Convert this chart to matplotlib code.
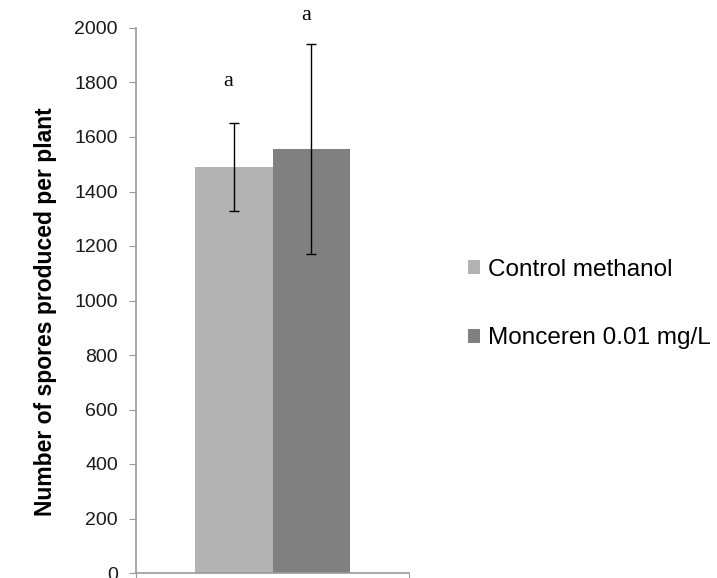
import matplotlib
matplotlib.use("Agg")
import matplotlib.pyplot as plt

# Spore counts per plant, one group with two treatments
treatments = ["Control methanol", "Monceren 0.01 mg/L"]
means = [1490, 1556]
errors = [160, 385]
letters = ["a", "a"]
colors = ["#b3b3b3", "#808080"]
yticks = [0, 200, 400, 600, 800, 1000, 1200, 1400, 1600, 1800, 2000]

plt.rcParams["font.family"] = ["Liberation Sans", "DejaVu Sans"]

fig = plt.figure(figsize=(7.17, 5.78), dpi=100)
W, H = 717, 578
ax = fig.add_axes([136 / W, 5 / H, 273 / W, 545 / H])

bar_w = 0.284
offsets = [-bar_w / 2, bar_w / 2]
letter_gap = [120, 70]
for i, (name, m, e, c) in enumerate(zip(treatments, means, errors, colors)):
    ax.bar(offsets[i], m, width=bar_w, color=c, label=name, zorder=2)
    ax.errorbar(offsets[i], m, yerr=e, fmt="none", ecolor="black",
                elinewidth=1.0, capsize=3.6, capthick=1.0, zorder=3)
    ax.text(offsets[i] - 0.02, m + e + letter_gap[i], letters[i],
            ha="center", va="bottom", fontsize=16,
            family=["Liberation Serif", "DejaVu Serif"])

ax.set_xlim(-0.5, 0.5)
ax.set_ylim(0, 2000)
ax.set_yticks(yticks)
ax.set_yticklabels([str(v) for v in yticks], fontsize=14, color="#1a1a1a")
ax.set_xticks([-0.5, 0.5])
ax.set_xticklabels([])
ax.tick_params(axis="y", length=5, color="#999999", pad=8)
ax.tick_params(axis="x", length=8, color="#999999")

for side in ["top", "right"]:
    ax.spines[side].set_visible(False)
for side in ["left", "bottom"]:
    ax.spines[side].set_color("#999999")
    ax.spines[side].set_linewidth(1.2)

ax.set_ylabel("Number of spores produced per plant", fontsize=16.5,
              fontweight="bold")
ax.yaxis.set_label_coords(-0.289, 0.479)

leg = fig.legend(loc="center left", bbox_to_anchor=(468 / W, 1 - 304 / H),
                 frameon=False, fontsize=17.5, handlelength=0.49,
                 handleheight=0.49, handletextpad=0.33, labelspacing=1.93,
                 borderpad=0, borderaxespad=0)

fig.savefig("out.png", dpi=100)
